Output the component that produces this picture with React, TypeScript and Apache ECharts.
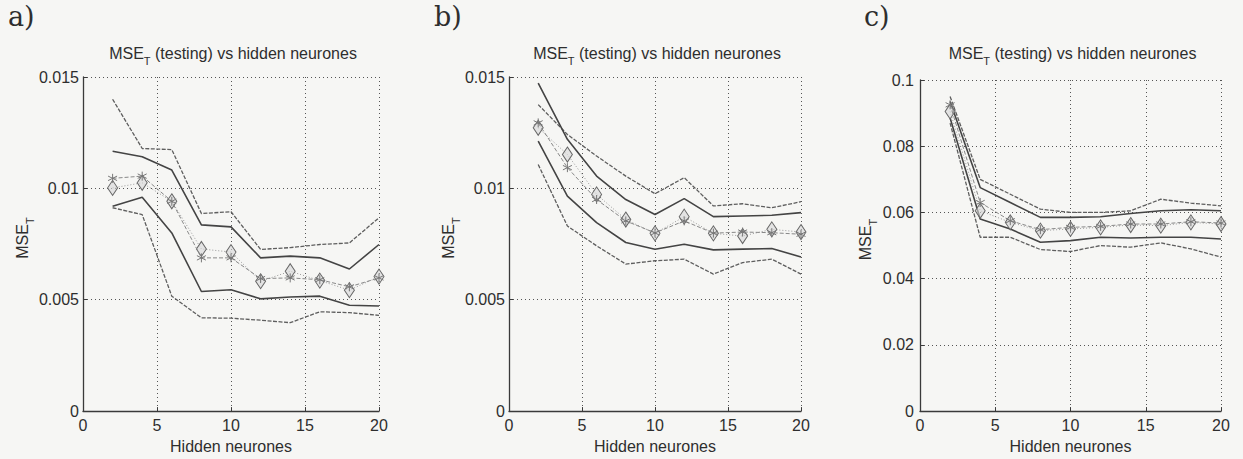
import React, { useEffect, useRef } from 'react';
import * as echarts from 'echarts';

// Hidden neurones (x values)
const hidden = [2, 4, 6, 8, 10, 12, 14, 16, 18, 20];

// Panel a) values in units of 0.001
const aOuterUp = [14.0, 11.79, 11.74, 8.87, 8.95, 7.26, 7.34, 7.48, 7.55, 8.68];
const aInnerUp = [11.67, 11.42, 10.82, 8.36, 8.27, 6.88, 6.96, 6.88, 6.38, 7.48];
const aStar = [10.45, 10.55, 9.42, 6.88, 6.88, 5.95, 5.98, 5.9, 5.58, 5.98];
const aDiamond = [10.02, 10.25, 9.42, 7.28, 7.14, 5.83, 6.28, 5.86, 5.43, 6.04];
const aInnerLow = [9.2, 9.6, 8.0, 5.37, 5.45, 5.04, 5.12, 5.16, 4.75, 4.72];
const aOuterLow = [9.13, 8.82, 5.16, 4.19, 4.17, 4.08, 3.97, 4.46, 4.42, 4.3];

// Panel b)
const bOuterUp = [13.76, 12.42, 11.45, 10.55, 9.76, 10.48, 9.21, 9.31, 9.13, 9.4];
const bInnerUp = [14.73, 12.2, 10.55, 9.5, 8.83, 9.54, 8.73, 8.76, 8.79, 8.91];
const bStar = [12.94, 10.93, 9.5, 8.54, 8.0, 8.54, 7.99, 8.04, 8.01, 7.94];
const bDiamond = [12.72, 11.52, 9.73, 8.6, 7.98, 8.73, 7.98, 7.86, 8.16, 8.04];
const bInnerLow = [12.12, 9.65, 8.46, 7.57, 7.27, 7.49, 7.24, 7.27, 7.3, 6.92];
const bOuterLow = [11.07, 8.31, 7.42, 6.6, 6.75, 6.82, 6.15, 6.67, 6.82, 6.15];

// Panel c)
const cOuterUp = [95, 70, 65.5, 61, 60, 60, 60.5, 64, 62.8, 62];
const cInnerUp = [93.5, 67.5, 63, 58.5, 58.5, 58.7, 59.7, 60.5, 60.8, 60.5];
const cStar = [92.5, 63, 57.5, 54.8, 55.5, 55.8, 56.5, 56.5, 57.2, 56.8];
const cDiamond = [90.5, 60.5, 57, 54.5, 55, 55.5, 56.2, 56, 57, 56.5];
const cInnerLow = [88.5, 58, 55, 51, 51.5, 52.5, 52.3, 52.5, 52.5, 52];
const cOuterLow = [87, 52.5, 52.5, 48.8, 48.2, 50, 49.5, 50.8, 49, 46.5];

const SCALE = 0.001;
const panelLabels = ['a)', 'b)', 'c)'];
const titleText = '{m|MSE}{t|T}{m| (testing) vs hidden neurones}';
const yName = '{m|MSE}{t|T}';
const xName = 'Hidden neurones';

const FONT = 'Liberation Sans, Arial, sans-serif';
const INK = '#2e2e2e';

const ASTERISK = 'path://M5,0L5,10M0.67,2.5L9.33,7.5M0.67,7.5L9.33,2.5';

const panels = [
  { sets: [aOuterUp, aInnerUp, aStar, aDiamond, aInnerLow, aOuterLow], max: 0.015, interval: 0.005,
    left: 83, top: 77, width: 296, height: 335, nameGap: 44, labelX: 8 },
  { sets: [bOuterUp, bInnerUp, bStar, bDiamond, bInnerLow, bOuterLow], max: 0.015, interval: 0.005,
    left: 509, top: 77, width: 292, height: 335, nameGap: 46, labelX: 434 },
  { sets: [cOuterUp, cInnerUp, cStar, cDiamond, cInnerLow, cOuterLow], max: 0.1, interval: 0.02,
    left: 920, top: 80, width: 301, height: 333, nameGap: 37, labelX: 864 },
];

const pts = (v: number[]) => hidden.map((x, i) => [x, v[i] * SCALE]);

const richStyle = {
  m: { fontSize: 16, lineHeight: 26, verticalAlign: 'middle', fontFamily: FONT, color: INK, fontWeight: 'normal' },
  t: { fontSize: 11, lineHeight: 11, verticalAlign: 'bottom', fontFamily: FONT, color: INK, fontWeight: 'normal' },
};

export default function App() {
  const ref = useRef<HTMLDivElement>(null);
  useEffect(() => {
    const chart = echarts.init(ref.current!, null, { renderer: 'svg' });
    const grid: any[] = [];
    const xAxis: any[] = [];
    const yAxis: any[] = [];
    const series: any[] = [];
    const title: any[] = [];
    const graphic: any[] = [];

    panels.forEach((p, idx) => {
      grid.push({ left: p.left, top: p.top, width: p.width, height: p.height, containLabel: false });
      const axisCommon = {
        axisLine: { show: true, onZero: false, lineStyle: { color: '#3a3a3a', width: 1.3 } },
        axisTick: { show: true, inside: true, length: 4, lineStyle: { color: '#3a3a3a' } },
        splitLine: { show: true, lineStyle: { type: [1, 3], color: '#555', width: 1 } },
      };
      xAxis.push({
        type: 'value', gridIndex: idx, min: 0, max: 20, interval: 5,
        ...axisCommon,
        axisLabel: { color: INK, fontSize: 16, fontFamily: FONT, margin: 6 },
        name: xName, nameLocation: 'middle', nameGap: 21,
        nameTextStyle: { color: INK, fontSize: 16, fontFamily: FONT },
      });
      yAxis.push({
        type: 'value', gridIndex: idx, min: 0, max: p.max, interval: p.interval,
        ...axisCommon,
        axisLabel: { color: INK, fontSize: 16, fontFamily: FONT, margin: idx === 2 ? 6 : 4 },
        name: yName, nameLocation: 'middle', nameGap: p.nameGap, nameRotate: 90,
        nameTextStyle: { rich: richStyle, padding: [0, 0, 0, 12] },
      });
      title.push({
        text: titleText, left: p.left + p.width / 2 + 2, top: 40, textAlign: 'center', padding: 0,
        textStyle: { rich: richStyle, fontWeight: 'normal' },
      });
      graphic.push({
        type: 'text', x: p.labelX, y: 3,
        style: { text: panelLabels[idx], fill: INK, font: '27px "DejaVu Serif", serif' },
      });

      const [ou, iu, st, di, il, ol] = p.sets;
      const base = { type: 'line', xAxisIndex: idx, yAxisIndex: idx, silent: true, z: 2 };
      const outerStyle = { color: '#5e5e5e', width: 1.3, type: [4, 1.5] };
      const innerStyle = { color: '#444', width: 1.6, type: 'solid' };
      series.push({ ...base, data: pts(ou), symbol: 'none', lineStyle: outerStyle });
      series.push({ ...base, data: pts(iu), symbol: 'none', lineStyle: innerStyle });
      series.push({ ...base, data: pts(il), symbol: 'none', lineStyle: innerStyle });
      series.push({ ...base, data: pts(ol), symbol: 'none', lineStyle: outerStyle });
      series.push({
        ...base, z: 3, data: pts(di), symbol: 'diamond', symbolSize: [10, 15], showSymbol: true,
        lineStyle: { color: '#999', width: 1, type: [1, 2] },
        itemStyle: { color: 'rgba(215,215,215,0.6)', borderColor: '#666', borderWidth: 1 },
      });
      series.push({
        ...base, z: 4, data: pts(st), symbol: ASTERISK, symbolSize: 9, showSymbol: true,
        lineStyle: { color: '#888', width: 1, type: [4, 2] },
        itemStyle: { color: 'rgba(0,0,0,0)', borderColor: '#777', borderWidth: 1 },
      });
    });

    chart.setOption({
      animation: false,
      backgroundColor: '#f6f6f4',
      title, grid, xAxis, yAxis, series, graphic,
    });
    return () => chart.dispose();
  }, []);
  return <div ref={ref} style={{ position: 'fixed', left: 0, top: 0, width: 1243, height: 459 }} />;
}
